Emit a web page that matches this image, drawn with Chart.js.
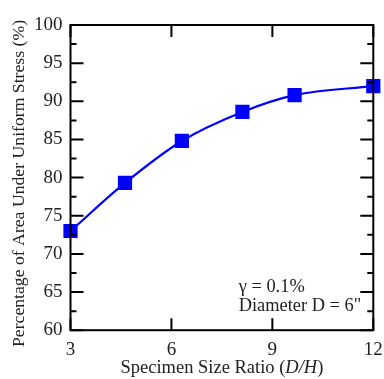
<!DOCTYPE html>
<html>
<head>
<meta charset="utf-8">
<script src="https://cdn.jsdelivr.net/npm/chart.js@4.4.0/dist/chart.umd.min.js"></script>
<style>
html,body{margin:0;padding:0;background:#fff;}
canvas{display:block;}
</style>
</head>
<body>
<canvas id="c" width="384" height="379"></canvas>
<script>
const sizeRatio = [3, 4.62, 6.31, 8.11, 9.66, 12];
const areaPercent = [73.0, 79.3, 84.8, 88.6, 90.8, 92.0];
const xTicks = [3, 6, 9, 12];
const yTicks = [60, 65, 70, 75, 80, 85, 90, 95, 100];
const yMinorTicks = [62.5, 67.5, 72.5, 77.5, 82.5, 87.5, 92.5, 97.5];
const noteLines = ['\u03B3 = 0.1%', 'Diameter D = 6"'];
const notePos = {x: 8.0, y: [65.7, 63.2]};
const xTitleParts = [['Specimen Size Ratio (', false], ['D/H', true], [')', false]];
const yTitle = 'Percentage of Area Under Uniform Stress (%)';

const FONT = '"Liberation Serif", "Times New Roman", serif';

const framePlugin = {
  id: 'frame',
  afterDatasetsDraw(chart) {
    const {ctx, chartArea: a, scales: {x, y}} = chart;
    ctx.save();
    ctx.strokeStyle = '#000';
    ctx.lineWidth = 2;
    ctx.strokeRect(a.left, a.top, a.right - a.left, a.bottom - a.top);
    ctx.beginPath();
    xTicks.forEach(v => {
      const px = x.getPixelForValue(v);
      ctx.moveTo(px, a.bottom); ctx.lineTo(px, a.bottom - 12);
      ctx.moveTo(px, a.top); ctx.lineTo(px, a.top + 12);
    });
    yTicks.forEach(v => {
      const py = y.getPixelForValue(v);
      ctx.moveTo(a.left, py); ctx.lineTo(a.left + 13, py);
      ctx.moveTo(a.right, py); ctx.lineTo(a.right - 13, py);
    });
    yMinorTicks.forEach(v => {
      const py = y.getPixelForValue(v);
      ctx.moveTo(a.left, py); ctx.lineTo(a.left + 6, py);
      ctx.moveTo(a.right, py); ctx.lineTo(a.right - 6, py);
    });
    ctx.stroke();
    // annotation
    ctx.fillStyle = '#222';
    ctx.font = '18.4px ' + FONT;
    ctx.textBaseline = 'middle';
    ctx.textAlign = 'left';
    noteLines.forEach((t, i) => {
      ctx.fillText(t, x.getPixelForValue(notePos.x), y.getPixelForValue(notePos.y[i]));
    });
    // x title with italic part
    const parts = xTitleParts.map(([t, it]) => {
      ctx.font = (it ? 'italic ' : '') + '18.5px ' + FONT;
      return {t, it, w: ctx.measureText(t).width};
    });
    const total = parts.reduce((s, p) => s + p.w, 0);
    let cx = (a.left + a.right) / 2 - total / 2;
    parts.forEach(p => {
      ctx.font = (p.it ? 'italic ' : '') + '18.5px ' + FONT;
      ctx.fillText(p.t, cx, 368);
      cx += p.w;
    });
    // y title
    ctx.save();
    ctx.translate(19, 183.5);
    ctx.rotate(-Math.PI / 2);
    ctx.textAlign = 'center';
    ctx.font = '17.7px ' + FONT;
    ctx.fillText(yTitle, 0, 0);
    ctx.restore();
    ctx.restore();
  }
};

new Chart(document.getElementById('c'), {
  type: 'line',
  data: {
    datasets: [{
      data: sizeRatio.map((v, i) => ({x: v, y: areaPercent[i]})),
      borderColor: '#0000ff',
      backgroundColor: '#0000ff',
      borderWidth: 2.2,
      pointStyle: 'rect',
      pointRadius: 8.5,
      pointHoverRadius: 8.5,
      cubicInterpolationMode: 'monotone',
      clip: false
    }]
  },
  options: {
    responsive: false,
    animation: false,
    devicePixelRatio: 1,
    layout: {padding: {top: 25, right: 0, bottom: 10, left: 26}},
    plugins: {legend: {display: false}, tooltip: {enabled: false}},
    scales: {
      x: {
        type: 'linear', min: 3, max: 12,
        afterBuildTicks: s => { s.ticks = xTicks.map(v => ({value: v})); },
        afterFit: s => { s.paddingRight = 8; },
        grid: {display: false, drawTicks: false},
        border: {display: false},
        ticks: {color: '#222', padding: 8, font: {family: FONT, size: 19}}
      },
      y: {
        type: 'linear', min: 60, max: 100,
        afterBuildTicks: s => { s.ticks = yTicks.map(v => ({value: v})); },
        grid: {display: false, drawTicks: false},
        border: {display: false},
        ticks: {color: '#222', padding: 8, font: {family: FONT, size: 19}}
      }
    }
  },
  plugins: [framePlugin]
});
</script>
</body>
</html>
